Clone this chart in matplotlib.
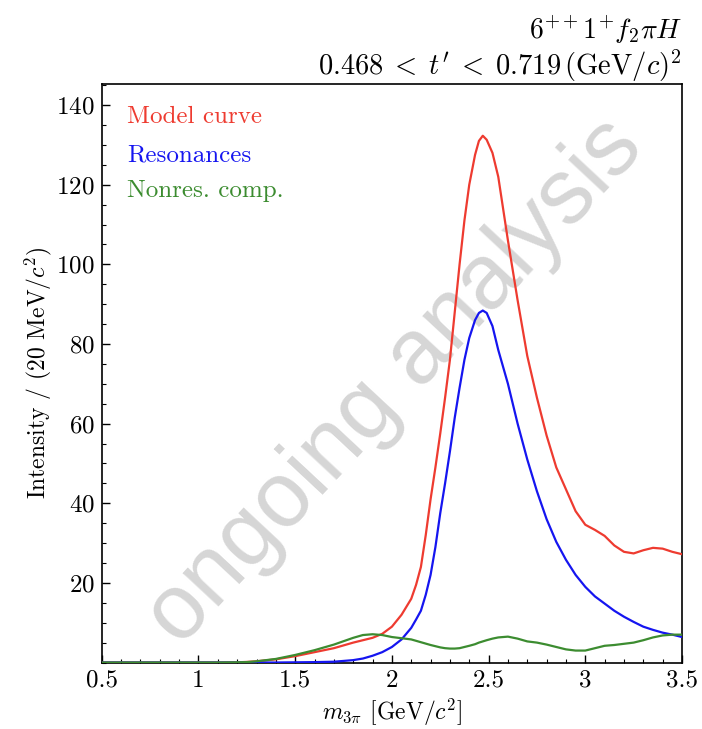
import matplotlib
matplotlib.use("Agg")
import matplotlib.pyplot as plt
from matplotlib.ticker import MultipleLocator, FuncFormatter

plt.rcParams['font.family'] = 'serif'
plt.rcParams['font.serif'] = ['cmr10']
plt.rcParams['mathtext.fontset'] = 'cm'
plt.rcParams['axes.formatter.use_mathtext'] = True

# mass bins [GeV/c^2]
mass = [0.5, 0.6, 0.7, 0.8, 0.9, 1.0, 1.1, 1.2, 1.25, 1.3, 1.4, 1.5, 1.6, 1.7,
        1.8, 1.85, 1.9, 1.95, 2.0, 2.05, 2.1, 2.125, 2.15, 2.175, 2.2, 2.225,
        2.25, 2.275, 2.3, 2.325, 2.35, 2.375, 2.4, 2.43, 2.45, 2.47, 2.49,
        2.52, 2.55, 2.6, 2.65, 2.7, 2.75, 2.8, 2.85, 2.9, 2.95, 3.0, 3.05,
        3.1, 3.15, 3.2, 3.25, 3.3, 3.35, 3.4, 3.45, 3.5]

model = [0, 0, 0, 0, 0, 0, 0, 0.05, 0.15, 0.3, 0.8, 1.6, 2.6, 3.6,
         5.0, 5.6, 6.2, 7.2, 9.0, 12.0, 16.0, 19.5, 24.0, 32.0, 41.0, 49.0,
         57.5, 66.5, 76.0, 88.0, 100.0, 111.0, 120.0, 127.5, 131.0, 132.3, 131.3,
         128.0, 122.0, 106.0, 91.0, 77.0, 66.5, 57.0, 49.0, 43.5, 38.0, 34.6, 33.3,
         31.8, 29.4, 27.8, 27.4, 28.2, 28.8, 28.6, 27.8, 27.2]

resonances = [0, 0, 0, 0, 0, 0, 0, 0, 0, 0, 0, 0.05, 0.1, 0.2,
              0.6, 1.0, 1.7, 2.6, 3.9, 5.8, 8.7, 10.8, 13.0, 17.0, 22.0, 29.0,
              37.5, 45.0, 53.0, 61.5, 69.0, 76.0, 81.5, 86.0, 87.8, 88.4, 87.8,
              84.5, 78.5, 70.0, 60.0, 51.0, 43.0, 36.0, 30.3, 25.8, 22.0, 19.0, 16.6,
              14.8, 13.0, 11.5, 10.2, 9.0, 8.2, 7.5, 7.0, 6.4]

nonres = [0, 0, 0, 0, 0, 0, 0, 0.05, 0.1, 0.3, 0.9, 1.9, 3.1, 4.5,
          6.2, 6.9, 7.1, 6.9, 6.4, 6.1, 5.8, 5.45, 5.1, 4.75, 4.4, 4.1,
          3.8, 3.6, 3.5, 3.5, 3.6, 3.9, 4.2, 4.6, 5.0, 5.3, 5.6,
          6.0, 6.3, 6.5, 6.0, 5.3, 5.0, 4.5, 3.9, 3.3, 3.0, 3.0, 3.6,
          4.2, 4.4, 4.7, 5.0, 5.6, 6.3, 6.8, 7.0, 7.0]

c_model = '#ee3b30'
c_res = '#1515f0'
c_nonres = '#3c8c30'

fig = plt.figure(figsize=(7.02, 7.29), dpi=100)
ax = fig.add_axes([0.145, 0.0912, 0.8265, 0.7936])

ax.plot(mass, model, color=c_model, lw=1.6, zorder=3)
ax.plot(mass, resonances, color=c_res, lw=1.6, zorder=3)
ax.plot(mass, nonres, color=c_nonres, lw=1.6, zorder=3)

ax.set_xlim(0.5, 3.5)
ax.set_ylim(0, 145.3)
ax.set_yticks([20, 40, 60, 80, 100, 120, 140])
ax.xaxis.set_major_locator(MultipleLocator(0.5))
ax.xaxis.set_minor_locator(MultipleLocator(0.1))
ax.yaxis.set_minor_locator(MultipleLocator(5))
ax.xaxis.set_major_formatter(FuncFormatter(lambda v, p: '%g' % v))
ax.tick_params(which='both', direction='in', labelsize=18, top=False, right=False)
ax.tick_params(which='major', length=6, width=1.0, pad=5)
ax.tick_params(which='minor', length=3, width=0.8)
for s in ax.spines.values():
    s.set_linewidth(1.2)

ax.set_xlabel(r'$m_{3\pi}$ [GeV/$c^2$]', fontsize=17)
ax.set_ylabel(r'Intensity / (20 MeV/$c^2$)', fontsize=17, labelpad=2)

# curve labels
ax.text(0.043, 0.943, 'Model curve', color=c_model, fontsize=18,
        transform=ax.transAxes, va='center')
ax.text(0.043, 0.877, 'Resonances', color=c_res, fontsize=18,
        transform=ax.transAxes, va='center')
ax.text(0.043, 0.815, 'Nonres. comp.', color=c_nonres, fontsize=18,
        transform=ax.transAxes, va='center')

# watermark
ax.text(0.505, 0.485, 'ongoing analysis', transform=ax.transAxes,
        fontsize=66, family='Liberation Sans', color='#d6d6d6',
        rotation=47, ha='center', va='center', zorder=1)

fig.text(0.9715, 0.947, r'$6^{++}1^{+}f_2\pi H$', ha='right', va='baseline', fontsize=20)
fig.text(0.9715, 0.897, r'$0.468 \;<\; t^{\prime} \;<\; 0.719\,(\mathrm{GeV}/c)^2$',
         ha='right', va='baseline', fontsize=20.5)

fig.savefig('out.png', dpi=100)
